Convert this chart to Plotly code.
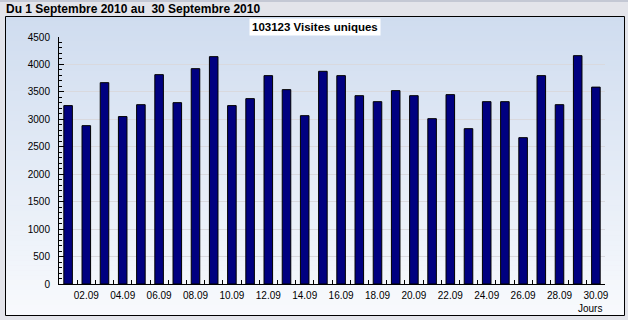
import plotly.graph_objects as go

# ---- data ----
days = [f"{d:02d}.09" for d in range(1, 31)]
visits = [3250, 2885, 3668, 3050, 3267, 3814, 3304, 3923, 4142, 3250,
          3377, 3796, 3541, 3067, 3875, 3796, 3431, 3322, 3523, 3431,
          3012, 3450, 2830, 3322, 3322, 2666, 3796, 3267, 4160, 3587]
tick_text = [d if i % 2 == 1 else "" for i, d in enumerate(days)]
title_text = "Du 1 Septembre 2010 au  30 Septembre 2010"
total_text = "103123 Visites uniques"
x_title = "Jours"

# ---- geometry ----
W, H = 628, 320
L, R, T, B = 59, 23, 37, 36
PW, PH = W - L - R, H - T - B


def px(x):
    return (x - L) / PW


def py(y):
    return (H - B - y) / PH


fig = go.Figure()
fig.add_trace(go.Bar(
    x=days, y=visits,
    marker=dict(color="#000080", line=dict(color="#000000", width=1)),
    hoverinfo="x+y",
))

shapes = []
# outer top line
shapes.append(dict(type="rect", xref="paper", yref="paper",
                   x0=px(0), x1=px(W), y0=py(2), y1=py(0),
                   fillcolor="#c4c8d4", line=dict(width=0), layer="below"))
# gradient panel
top = (207, 220, 239)
bot = (248, 250, 253)
y0p, y1p = 16, 315
n = 60
for i in range(n):
    a = y0p + (y1p - y0p) * i / n
    b = y0p + (y1p - y0p) * (i + 1) / n
    t = (i + 0.5) / n
    c = tuple(round(top[k] + (bot[k] - top[k]) * t) for k in range(3))
    shapes.append(dict(type="rect", xref="paper", yref="paper",
                       x0=px(5), x1=px(624), y0=py(b + 0.5), y1=py(a),
                       fillcolor=f"rgb{c}", line=dict(width=0), layer="below"))
# panel border
shapes.append(dict(type="rect", xref="paper", yref="paper",
                   x0=px(5.5), x1=px(624.5), y0=py(315.5), y1=py(16.5),
                   line=dict(color="#000000", width=1), fillcolor="rgba(0,0,0,0)",
                   layer="above"))

annotations = [
    dict(text=f"<b>{title_text}</b>", xref="paper", yref="paper",
         x=px(4), y=py(9), xanchor="left", yanchor="middle", showarrow=False,
         font=dict(family="Liberation Sans, Arial", size=12, color="#000000")),
    dict(text=f"<b>{total_text}</b>", xref="paper", yref="paper",
         x=px(315), y=py(27.5), xanchor="center", yanchor="middle", showarrow=False,
         bgcolor="#ffffff", borderpad=2,
         font=dict(family="Liberation Sans, Arial", size=11.5, color="#000000")),
    dict(text=x_title, xref="paper", yref="paper",
         x=px(604), y=py(308), xanchor="right", yanchor="middle", showarrow=False,
         font=dict(family="Liberation Sans, Arial", size=10, color="#000000")),
]

fig.update_layout(
    width=W, height=H, autosize=False,
    margin=dict(l=L, r=R, t=T, b=B, pad=0),
    paper_bgcolor="#e3e4ea",
    plot_bgcolor="rgba(0,0,0,0)",
    bargap=0.53,
    showlegend=False,
    shapes=shapes,
    annotations=annotations,
    font=dict(family="Liberation Sans, Arial", size=10, color="#000000"),
)
fig.update_xaxes(
    type="category", tickmode="array", tickvals=days, ticktext=tick_text,
    tickson="boundaries", ticks="inside", ticklen=4, tickcolor="#000000",
    tickangle=0, ticklabelstandoff=2,
    showline=True, linecolor="#000000", linewidth=1,
    showgrid=False, zeroline=False, fixedrange=True,
    tickfont=dict(size=10, color="#000000"),
)
fig.update_yaxes(
    range=[0, 4500], dtick=500, tick0=0,
    ticks="inside", ticklen=5, tickcolor="#000000",
    minor=dict(dtick=100, ticks="inside", ticklen=3, tickcolor="#000000", showgrid=False),
    showline=True, linecolor="#000000", linewidth=1,
    showgrid=True, gridcolor="#d9d9de", gridwidth=1,
    zeroline=False, fixedrange=True,
    ticklabelstandoff=6,
    tickfont=dict(size=10, color="#000000"),
)

fig.write_html("out.html")
